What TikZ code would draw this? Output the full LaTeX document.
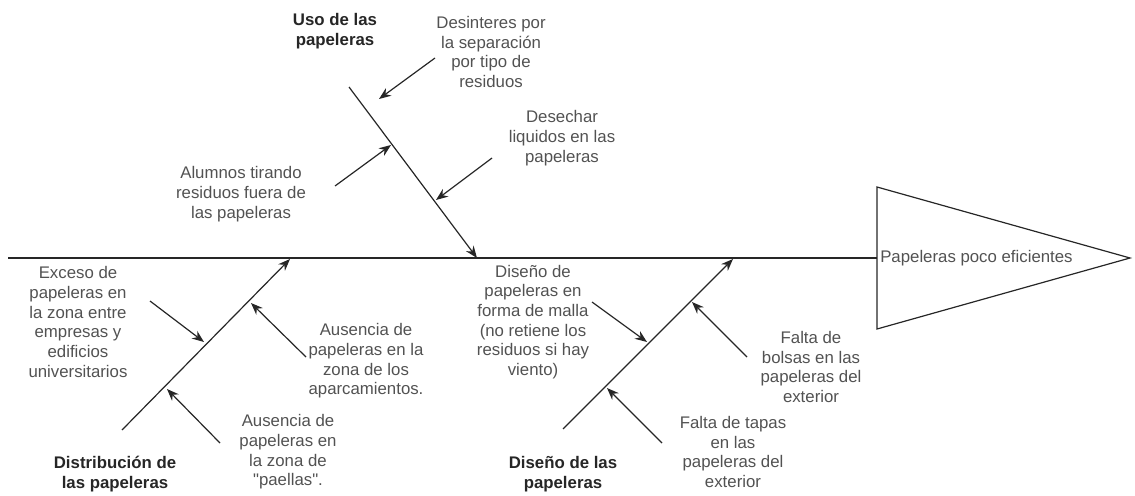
\documentclass[tikz,border=0pt]{standalone}
\usepackage{fontspec}
\setmainfont{Liberation Sans}[Ligatures=TeXOff]
\usetikzlibrary{arrows.meta}

\begin{document}
\begin{tikzpicture}[
				x=0.75pt, y=-0.75pt,
				line/.style={draw=black!85, line width=0.9pt},
				bone/.style={line, -{Stealth[length=9pt, width=7pt]}},
				cause/.style={align=center, inner sep=0pt, text=black!68, font=\fontsize{12.6}{14.8}\selectfont},
				category/.style={cause, text=black!85, font=\bfseries\fontsize{12.6}{14.8}\selectfont}
			]
			\useasboundingbox (0,0) rectangle (1135,496);
			% cabeza del pescado
			\coordinate (tail) at (8,258);
			\coordinate (mouth) at (877,258);
			\coordinate (headtop) at (877,187);
			\coordinate (headbot) at (877,329);
			\coordinate (headtip) at (1130,258);
			\draw[line] (headtop) -- (headtip) -- (headbot) -- cycle;
			\draw[line] (tail) -- (mouth);
			\node[cause, anchor=west] (effect) at (880,258) {Papeleras poco eficientes};

			% espinas principales
			\coordinate (usoS) at (349,87);
			\coordinate (usoE) at (477,258);
			\coordinate (distS) at (122,430);
			\coordinate (distE) at (290,259);
			\coordinate (disS) at (563,429);
			\coordinate (disE) at (733,259);
			\draw[bone] (usoS) -- (usoE);
			\draw[bone] (distS) -- (distE);
			\draw[bone] (disS) -- (disE);

			% Uso de las papeleras
			\node[category] (uso) at (335,31) {Uso de las\\papeleras};
			\node[cause] (desinteres) at (491,52) {Desinteres por\\la separación\\por tipo de\\residuos};
			\node[cause] (liquidos) at (562,138) {Desechar\\liquidos en las\\papeleras};
			\node[cause] (alumnos) at (241,194) {Alumnos tirando\\residuos fuera de\\las papeleras};
			\coordinate (desinteresS) at (435,58);
			\coordinate (desinteresE) at (379,99);
			\coordinate (liquidosS) at (492,158);
			\coordinate (liquidosE) at (436,200);
			\coordinate (alumnosS) at (335,186);
			\coordinate (alumnosE) at (391,145);
			\draw[bone] (desinteresS) -- (desinteresE);
			\draw[bone] (liquidosS) -- (liquidosE);
			\draw[bone] (alumnosS) -- (alumnosE);

			% Distribucion de las papeleras
			\node[category] (dist) at (115,474) {Distribución de\\las papeleras};
			\node[cause] (exceso) at (78,322) {Exceso de\\papeleras en\\la zona entre\\empresas y\\edificios\\universitarios};
			\node[cause] (aparca) at (366,361) {Ausencia de\\papeleras en la\\zona de los\\aparcamientos.};
			\node[cause] (paellas) at (288,452) {Ausencia de\\papeleras en\\la zona de\\"paellas".};
			\coordinate (excesoS) at (150,301);
			\coordinate (excesoE) at (204,342);
			\coordinate (aparcaS) at (306,357);
			\coordinate (aparcaE) at (251,303);
			\coordinate (paellasS) at (220,443);
			\coordinate (paellasE) at (167,389);
			\draw[bone] (excesoS) -- (excesoE);
			\draw[bone] (aparcaS) -- (aparcaE);
			\draw[bone] (paellasS) -- (paellasE);

			% Diseno de las papeleras
			\node[category] (diseno) at (563,474) {Diseño de las\\papeleras};
			\node[cause] (malla) at (533,322) {Diseño de\\papeleras en\\forma de malla\\(no retiene los\\residuos si hay\\viento)};
			\node[cause] (bolsas) at (811,367) {Falta de\\bolsas en las\\papeleras del\\exterior};
			\node[cause] (tapas) at (733,452) {Falta de tapas\\en las\\papeleras del\\exterior};
			\coordinate (mallaS) at (592,302);
			\coordinate (mallaE) at (647,342);
			\coordinate (bolsasS) at (747,357);
			\coordinate (bolsasE) at (692,302);
			\coordinate (tapasS) at (662,443);
			\coordinate (tapasE) at (607,388);
			\draw[bone] (mallaS) -- (mallaE);
			\draw[bone] (bolsasS) -- (bolsasE);
			\draw[bone] (tapasS) -- (tapasE);
		\end{tikzpicture}
\end{document}
